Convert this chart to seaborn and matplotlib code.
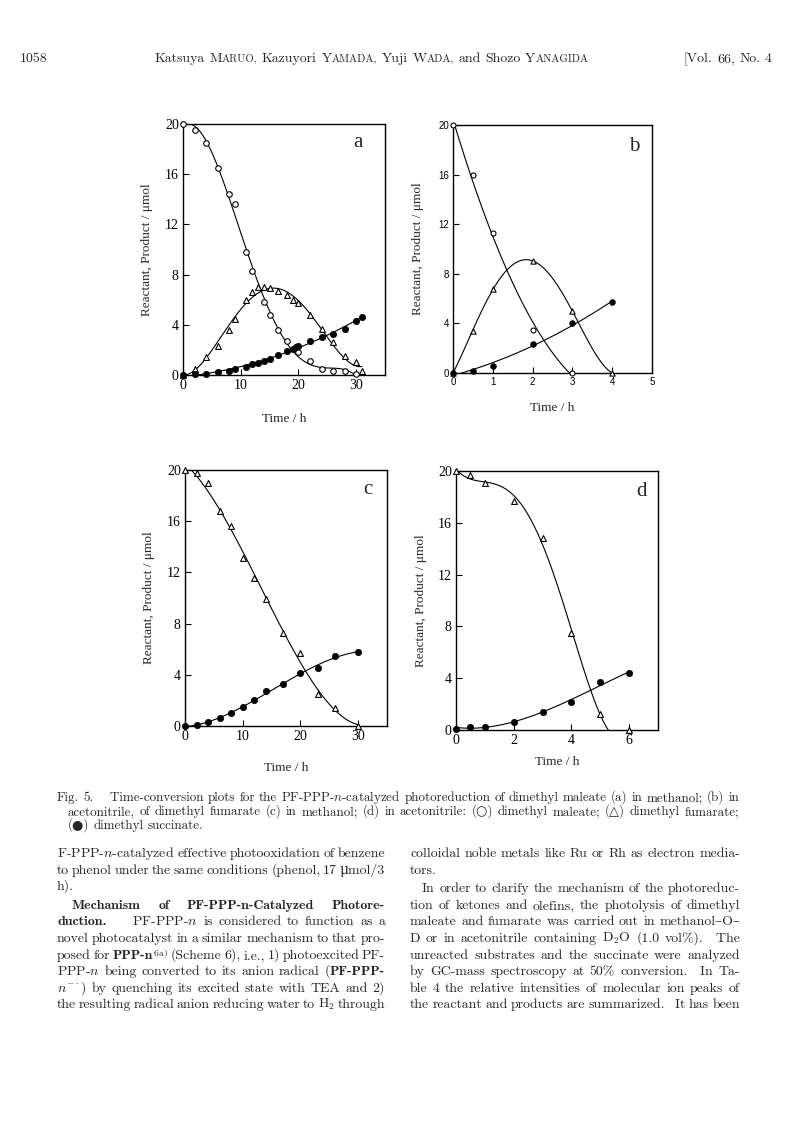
import numpy as np
import pandas as pd
import matplotlib
matplotlib.use("Agg")
import matplotlib.pyplot as plt
import seaborn as sns

# ---- data (time / h, amount / umol) ----
# (a) dimethyl maleate in methanol
a_t_mal = [0, 2, 4, 6, 8, 9, 11, 12, 14, 15, 16.5, 18, 20, 22, 24, 26, 28, 30]
a_mal = [20, 19.5, 18.5, 16.5, 14.4, 13.6, 9.8, 8.3, 5.8, 4.8, 3.6, 2.7, 1.8, 1.1, 0.5, 0.35, 0.3, 0.05]
a_t_fum = [0, 2, 4, 6, 8, 9, 11, 12, 13, 14, 15, 16.5, 18, 19, 20, 22, 24, 26, 28, 30, 31]
a_fum = [0, 0.5, 1.4, 2.3, 3.6, 4.5, 6.0, 6.6, 7.0, 7.0, 6.9, 6.7, 6.4, 6.0, 5.7, 4.8, 3.7, 2.6, 1.5, 1.0, 0.3]
a_t_suc = [0, 2, 4, 6, 8, 9, 11, 12, 13, 14, 15, 16.5, 18, 19, 19.5, 20, 22, 24, 26, 28, 30, 31]
a_suc = [0, 0.05, 0.1, 0.25, 0.3, 0.5, 0.65, 0.85, 0.95, 1.1, 1.3, 1.6, 1.95, 2.1, 2.2, 2.3, 2.7, 3.0, 3.3, 3.7, 4.3, 4.65]

# (b) dimethyl maleate in acetonitrile
b_t_mal = [0, 0.5, 1, 2, 3]
b_mal = [20, 16.0, 11.3, 3.5, 0]
b_t = [0, 0.5, 1, 2, 3, 4]
b_fum = [0, 3.4, 6.8, 9.0, 5.0, 0]
b_suc = [0, 0.15, 0.6, 2.3, 4.0, 5.7]

# (c) dimethyl fumarate in methanol
c_t = [0, 2, 4, 6, 8, 10, 12, 14, 17, 20, 23, 26, 30]
c_fum = [20, 19.8, 19.0, 16.8, 15.6, 13.1, 11.6, 9.9, 7.3, 5.7, 2.5, 1.4, 0]
c_suc = [0, 0.05, 0.3, 0.6, 1.0, 1.5, 2.05, 2.7, 3.25, 4.15, 4.55, 5.45, 5.8]

# (d) dimethyl fumarate in acetonitrile
d_t = [0, 0.5, 1, 2, 3, 4, 5, 6]
d_fum = [20, 19.7, 19.1, 17.7, 14.8, 7.5, 1.2, 0]
d_suc = [0.1, 0.25, 0.25, 0.6, 1.4, 2.15, 3.7, 4.4]

yticks = [0, 4, 8, 12, 16, 20]

sns.set_theme(style="ticks")
plt.rcParams['font.family'] = ['Liberation Serif', 'DejaVu Sans']
plt.rcParams['mathtext.fontset'] = 'cm'

W, H = 793, 1121
fig = plt.figure(figsize=(W / 100, H / 100), dpi=100)
fig.patch.set_facecolor('white')


def rect(l, r, t, b):
    return [l / W, 1 - b / H, (r - l) / W, (b - t) / H]


def series(ax, t, v, kind, order, s):
    df = pd.DataFrame({'t': t, 'v': v})
    sns.regplot(data=df, x='t', y='v', order=order, ci=None, scatter=False,
                truncate=True, color='black', line_kws={'lw': 0.8}, ax=ax)
    if kind == 'mal':
        sns.scatterplot(data=df, x='t', y='v', marker='o', s=s, color='white',
                        edgecolor='black', linewidth=0.8, ax=ax, zorder=3, clip_on=False)
    elif kind == 'fum':
        sns.scatterplot(data=df, x='t', y='v', marker='^', s=s * 1.1, color='white',
                        edgecolor='black', linewidth=0.8, ax=ax, zorder=3, clip_on=False)
    else:
        sns.scatterplot(data=df, x='t', y='v', marker='o', s=s * 1.3, color='black',
                        edgecolor='black', linewidth=0.5, ax=ax, zorder=4, clip_on=False)


def style(ax, xlim, xticks, letter, lx, ly, ylab_x, xlab_y, sans=False):
    ax.set_xlim(*xlim)
    ax.set_ylim(0, 20)
    ax.set_xticks(xticks)
    ax.set_yticks(yticks)
    ax.tick_params(direction='in', length=4, width=0.8, pad=3,
                   labelsize=7 if sans else 10, colors='black')
    if sans:
        for lab in ax.get_xticklabels() + ax.get_yticklabels():
            lab.set_family(['Liberation Sans', 'DejaVu Sans'])
    for sp in ax.spines.values():
        sp.set_visible(True)
        sp.set_linewidth(1.0)
        sp.set_color('black')
    ax.set_facecolor('white')
    ax.set_xlabel('Time / h', fontsize=9.5)
    ax.set_ylabel('Reactant, Product / μmol', fontsize=9.5)
    ax.yaxis.set_label_coords(ylab_x, 0.5)
    ax.xaxis.set_label_coords(0.5, xlab_y)
    ax.text(lx, ly, letter, transform=ax.transAxes, fontsize=15, ha='center', va='center')


ax_a = fig.add_axes(rect(183, 385, 124, 375))
series(ax_a, a_t_mal, a_mal, 'mal', 5, 16)
series(ax_a, a_t_fum, a_fum, 'fum', 4, 16)
series(ax_a, a_t_suc, a_suc, 'suc', 2, 16)
style(ax_a, (0, 35), [0, 10, 20, 30], 'a', 0.866, 0.928, -0.15, -0.15)

ax_b = fig.add_axes(rect(453, 652, 125, 373))
series(ax_b, b_t_mal, b_mal, 'mal', 2, 13)
series(ax_b, b_t, b_fum, 'fum', 4, 13)
series(ax_b, b_t, b_suc, 'suc', 2, 13)
style(ax_b, (0, 5), [0, 1, 2, 3, 4, 5], 'b', 0.91, 0.915, -0.145, -0.115, sans=True)

ax_c = fig.add_axes(rect(185, 387, 470, 726))
series(ax_c, c_t, c_fum, 'fum', 3, 16)
series(ax_c, c_t, c_suc, 'suc', 3, 16)
style(ax_c, (0, 35), [0, 10, 20, 30], 'c', 0.906, 0.922, -0.15, -0.14)

ax_d = fig.add_axes(rect(456, 658, 471, 730))
series(ax_d, d_t, d_fum, 'fum', 4, 16)
series(ax_d, d_t, d_suc, 'suc', 3, 16)
style(ax_d, (0, 7), [0, 2, 4, 6], 'd', 0.92, 0.919, -0.145, -0.10)

# ---- page text (TeX-like fonts) ----
renderer = fig.canvas.get_renderer()
ROMAN = ['cmr10', 'DejaVu Serif', 'DejaVu Sans']
BOLD = ['cmb10', 'DejaVu Serif', 'DejaVu Sans']
SPACE = 0.33


def piece(p, size, y):
    fam, sz = ROMAN, size
    if p.startswith('**'):
        fam, p = BOLD, p[2:]
    elif p.startswith('~'):
        sz, p = size * 0.78, p[1:]
    return fig.text(0, 1 - y / H, p, fontsize=sz, va='baseline', family=fam)


def build(text, size, y):
    words = []
    for w in text.split(' '):
        objs = [piece(p, size, y) for p in w.split('|')]
        wids = [o.get_window_extent(renderer).width for o in objs]
        words.append((objs, wids))
    return words


def natural(text, size):
    words = build(text, size, 0)
    n = sum(sum(wd) for _, wd in words) + SPACE * size * 100 / 72 * (len(words) - 1)
    for objs, _ in words:
        for o in objs:
            o.remove()
    return n


def fit_size(lines, base=10.0):
    r = [(x1 - x0) / natural(t, base) for x0, x1, t in lines]
    return base * float(np.median(r))


def line(x0, x1, y, text, size, justify=True, align='left'):
    words = build(text, size, y)
    total = sum(sum(wd) for _, wd in words)
    gap = SPACE * size * 100 / 72
    if justify and len(words) > 1:
        gap = (x1 - x0 - total) / (len(words) - 1)
    width = total + gap * (len(words) - 1)
    x = x0
    if align == 'right':
        x = x1 - width
    elif align == 'center':
        x = (x0 + x1) / 2 - width / 2
    for objs, wids in words:
        for o, wd in zip(objs, wids):
            o.set_x(x / W)
            x += wd
        x += gap


left_col = [
    (57, 857, 'F-PPP-$n$-catalyzed effective photooxidation of benzene', True),
    (57, 874, 'to phenol under the same conditions (phenol, 17 μmol/3', True),
    (57, 890, 'h).', False),
    (72, 909, '**Mechanism **of **PF-PPP-n-Catalyzed **Photore-', True),
    (57, 925, '**duction. \u2003 PF-PPP-$n$ is considered to function as a', True),
    (57, 942, 'novel photocatalyst in a similar mechanism to that pro-', True),
    (57, 959, 'posed for **PPP-n|$^{\\mathrm{6a)}}$ (Scheme 6), i.e., 1) photoexcited PF-', True),
    (57, 975, 'PPP-$n$ being converted to its anion radical (|**PF-PPP-', True),
    (57, 992, '$n^{-\\cdot}$) by quenching its excited state with TEA and 2)', True),
    (57, 1008, 'the resulting radical anion reducing water to H$_2$ through', True),
]
right_col = [
    (410, 857, 'colloidal noble metals like Ru or Rh as electron media-', True),
    (410, 874, 'tors.', False),
    (422, 892, 'In order to clarify the mechanism of the photoreduc-', True),
    (410, 909, 'tion of ketones and olefins, the photolysis of dimethyl', True),
    (410, 925, 'maleate and fumarate was carried out in methanol–O–', True),
    (410, 942, 'D or in acetonitrile containing D$_2$O (1.0 vol%). \u2002The', True),
    (410, 959, 'unreacted substrates and the succinate were analyzed', True),
    (410, 975, 'by GC-mass spectroscopy at 50% conversion. \u2002In Ta-', True),
    (410, 992, 'ble 4 the relative intensities of molecular ion peaks of', True),
    (410, 1008, 'the reactant and products are summarized. \u2002It has been', True),
]
body = [(x0, 385, t) for x0, y, t, j in left_col if j] + [(x0, 740, t) for x0, y, t, j in right_col if j]
s_body = fit_size(body)
for x0, y, t, j in left_col:
    line(x0, 385, y, t, s_body, j)
for x0, y, t, j in right_col:
    line(x0, 740, y, t, s_body, j)

# running head
head_names = 'Katsuya M|~ARUO, Kazuyori Y|~AMADA, Yuji W|~ADA, and Shozo Y|~ANAGIDA'
s_head = min(fit_size([(131, 612, head_names)]), s_body)
line(20, 0, 62, '1058', s_head, False)
line(131, 612, 62, head_names, s_head, False, align='center')
line(600, 772, 62, '[Vol. 66, No. 4', s_head, False, align='right')

# caption
cap = [
    (57, 739, 801, 'Fig. 5. \u2003Time-conversion plots for the PF-PPP-$n$-catalyzed photoreduction of dimethyl maleate (a) in methanol; (b) in', True),
    (68, 739, 815, 'acetonitrile, of dimethyl fumarate (c) in methanol; (d) in acetonitrile: (○) dimethyl maleate; (△) dimethyl fumarate;', True),
    (68, 739, 829, '(●) dimethyl succinate.', False),
]
s_cap = fit_size([(c[0], c[1], c[3]) for c in cap if c[4]])
for x0, x1, y, t, j in cap:
    line(x0, x1, y, t, s_cap, j)

fig.savefig('out.png', dpi=100, facecolor='white')
